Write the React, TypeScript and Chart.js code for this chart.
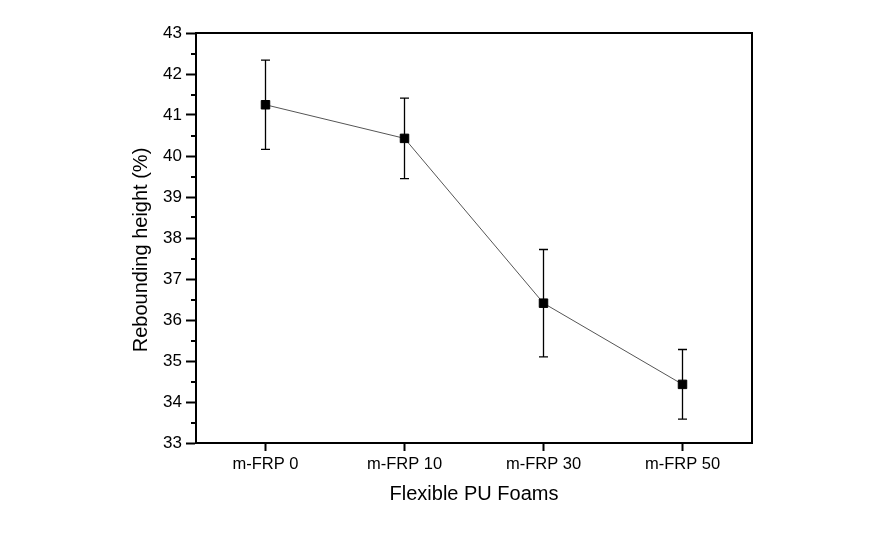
import React, { useEffect, useRef } from "react";
import { Chart, registerables } from "chart.js";

Chart.register(...registerables);

const categories = ["m-FRP 0", "m-FRP 10", "m-FRP 30", "m-FRP 50"];
const values = [41.25, 40.43, 36.41, 34.43];
const errors = [1.09, 0.98, 1.31, 0.85];
const yMin = 33;
const yMax = 43;
const minorTicks = [33.5, 34.5, 35.5, 36.5, 37.5, 38.5, 39.5, 40.5, 41.5, 42.5];
const yTitle = "Rebounding height (%)";
const xTitle = "Flexible PU Foams";

const FONT = 'Arial, "Liberation Sans", sans-serif';

const errorBarPlugin = {
  id: "errorBars",
  beforeDatasetsDraw(chart: any) {
    const { ctx, scales } = chart;
    const x = scales.x;
    const y = scales.y;
    ctx.save();
    ctx.strokeStyle = "#000";
    ctx.lineWidth = 1.3;
    values.forEach((v, i) => {
      const px = x.getPixelForValue(i);
      const top = y.getPixelForValue(v + errors[i]);
      const bot = y.getPixelForValue(v - errors[i]);
      ctx.beginPath();
      ctx.moveTo(px, top);
      ctx.lineTo(px, bot);
      ctx.moveTo(px - 4.5, top);
      ctx.lineTo(px + 4.5, top);
      ctx.moveTo(px - 4.5, bot);
      ctx.lineTo(px + 4.5, bot);
      ctx.stroke();
    });
    ctx.restore();
  },
};

const framePlugin = {
  id: "frame",
  afterDraw(chart: any) {
    const { ctx, chartArea, scales } = chart;
    const y = scales.y;
    ctx.save();
    ctx.strokeStyle = "#000";
    ctx.lineWidth = 2;
    ctx.beginPath();
    ctx.moveTo(chartArea.left, chartArea.top);
    ctx.lineTo(chartArea.right, chartArea.top);
    ctx.lineTo(chartArea.right, chartArea.bottom);
    ctx.stroke();
    ctx.beginPath();
    minorTicks.forEach((v) => {
      const py = Math.round(y.getPixelForValue(v));
      ctx.moveTo(chartArea.left - 5, py);
      ctx.lineTo(chartArea.left, py);
    });
    ctx.stroke();
    // y axis title
    ctx.fillStyle = "#000";
    ctx.font = `20px ${FONT}`;
    ctx.textAlign = "center";
    ctx.textBaseline = "middle";
    ctx.translate(y.left + 12, (chartArea.top + chartArea.bottom) / 2 + 12);
    ctx.rotate(-Math.PI / 2);
    ctx.fillText(yTitle, 0, 0);
    ctx.restore();
  },
};

export default function App() {
  const ref = useRef<HTMLCanvasElement | null>(null);

  useEffect(() => {
    if (!ref.current) return;
    const chart = new Chart(ref.current, {
      type: "line",
      data: {
        labels: categories,
        datasets: [
          {
            data: values,
            borderColor: "#555555",
            borderWidth: 1,
            pointStyle: "rect",
            pointRadius: 6,
            pointBorderWidth: 1,
            pointBackgroundColor: "#000",
            pointBorderColor: "#000",
            tension: 0,
          },
        ],
      },
      options: {
        responsive: false,
        animation: false,
        layout: { padding: { left: 129, right: 134, top: 33, bottom: 42 } },
        plugins: { legend: { display: false }, tooltip: { enabled: false } },
        scales: {
          x: {
            type: "category",
            offset: true,
            afterFit(scale: any) {
              scale.height = 63;
            },
            grid: {
              offset: false,
              drawOnChartArea: false,
              tickLength: 8,
              tickWidth: 2,
              tickColor: "#000",
            },
            border: { display: true, color: "#000", width: 2 },
            ticks: { color: "#000", font: { family: FONT, size: 16.5 }, padding: 4, maxRotation: 0 },
            title: {
              display: true,
              text: xTitle,
              color: "#000",
              font: { family: FONT, size: 20 },
              padding: 0,
            },
          },
          y: {
            min: yMin,
            max: yMax,
            afterFit(scale: any) {
              scale.width = 67;
            },
            ticks: { stepSize: 1, color: "#000", font: { family: FONT, size: 17 }, padding: 4 },
            grid: {
              drawOnChartArea: false,
              tickLength: 10,
              tickWidth: 2,
              tickColor: "#000",
            },
            border: { display: true, color: "#000", width: 2 },
          },
        },
      },
      plugins: [errorBarPlugin, framePlugin],
    });
    return () => chart.destroy();
  }, []);

  return (
    <div style={{ position: "absolute", left: 0, top: 0, width: 886, height: 548, background: "#fff" }}>
      <canvas ref={ref} width={886} height={548} />
    </div>
  );
}
